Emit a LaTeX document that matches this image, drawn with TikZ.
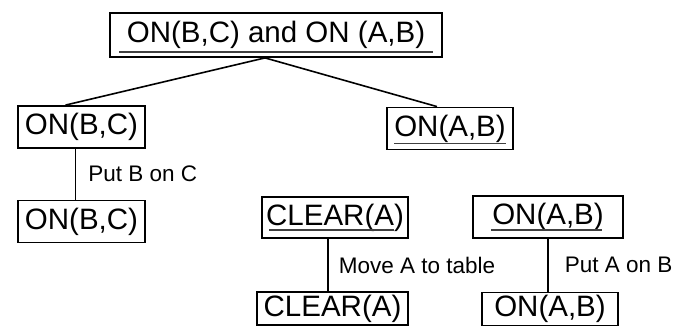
\documentclass[tikz,border=0pt]{standalone}
\usepackage{fontspec}
\setmainfont{Liberation Sans}
\begin{document}
\begin{tikzpicture}[x=1pt,y=-1pt,
  goalbox/.style={draw, line width=1.8pt, inner sep=0pt, minimum height=42pt,
    font=\fontsize{29.5}{29.5}\selectfont},
  opnote/.style={anchor=west, inner sep=0pt, font=\fontsize{22.5}{22.5}\selectfont},
  link/.style={line width=1.6pt},
  uline/.style={line width=1.4pt, draw=black!75}]
\useasboundingbox (0,0) rectangle (686,328);
% goal tree
\node[goalbox, minimum width=332pt, minimum height=44pt] (top) at (276,35) {ON(B,C) and ON (A,B)};
\node[goalbox, minimum width=127pt] (bc1) at (81.5,127) {ON(B,C)};
\node[goalbox, minimum width=126pt] (ab1) at (450,128.5) {ON(A,B)};
\node[goalbox, minimum width=127pt] (bc2) at (81.5,221.5) {ON(B,C)};
\node[goalbox, minimum width=146pt, minimum height=41pt] (clr1) at (335,217.5) {CLEAR(A)};
\node[goalbox, minimum width=150pt] (ab2) at (548,217) {ON(A,B)};
\node[goalbox, minimum width=151pt, minimum height=33pt] (clr2) at (332.5,308.5) {CLEAR(A)};
\node[goalbox, minimum width=136pt, minimum height=33pt] (ab3) at (550,309) {ON(A,B)};
% underlined goals
\draw[uline] ([xshift=10pt,yshift=6pt]top.south west) -- ([xshift=-10pt,yshift=6pt]top.south east);
\draw[uline] ([xshift=8pt,yshift=7pt]ab1.south west) -- ([xshift=-8pt,yshift=7pt]ab1.south east);
\draw[uline] ([xshift=8pt,yshift=9pt]clr1.south west) -- ([xshift=-15pt,yshift=9pt]clr1.south east);
\draw[uline] ([xshift=19pt,yshift=9pt]ab2.south west) -- ([xshift=-22pt,yshift=9pt]ab2.south east);
% decomposition
\draw[link] ([xshift=-11pt]top.south) -- ([xshift=-16pt]bc1.north);
\draw[link] ([xshift=-11pt]top.south) -- ([xshift=-13pt]ab1.north);
% operators
\draw[link] ([xshift=-6pt]bc1.south) -- ([xshift=-6pt]bc1.south |- bc2.north)
  node[opnote, pos=0.5, xshift=12pt] (op1) {Put B on C};
\draw[link] ([xshift=-7pt]clr1.south) -- ([xshift=-7pt]clr1.south |- clr2.north)
  node[opnote, pos=0.5, xshift=10pt] (op2) {Move A to table};
\draw[link] (ab2.south) -- (ab2.south |- ab3.north)
  node[opnote, pos=0.5, xshift=16pt] (op3) {Put A on B};
\end{tikzpicture}
\end{document}
